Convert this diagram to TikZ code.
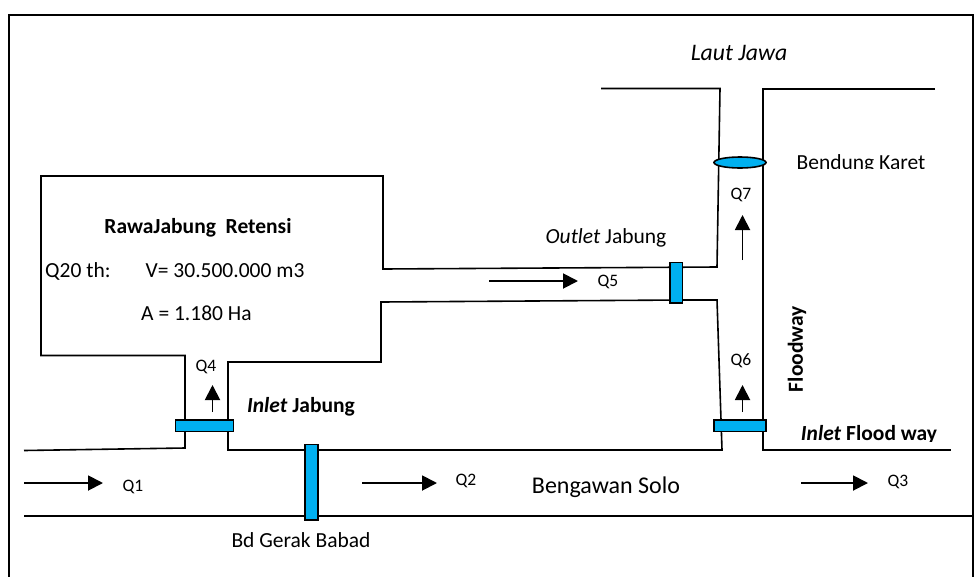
\documentclass[tikz,border=0pt]{standalone}
\usepackage{fontspec}
\setmainfont{Carlito}
\usetikzlibrary{arrows.meta}
\definecolor{gatecol}{HTML}{00B0F0}
\tikzset{
  x=1pt,y=-1pt,
  bank/.style={draw=black,line width=1.6pt,line join=miter},
  gate/.style={draw=black,fill=gatecol,line width=1.6pt},
  flow/.style={draw=black,line width=1.9pt,-{Triangle[length=15pt,width=15pt]}},
  lab/.style={inner sep=0pt,font=\fontsize{21.5}{25}\selectfont},
  qlab/.style={inner sep=0pt,font=\fontsize{17.5}{21}\selectfont},
}
\newcommand{\cliplabel}[5]{% x1 y1 x2 y2 node
  \begin{scope}\clip (#1,#2) rectangle (#3,#4); #5 \end{scope}}
\begin{document}
\begin{tikzpicture}
\useasboundingbox (0,0) rectangle (974,576);
\fill[white] (0,0) rectangle (974,576);
% frame
\draw[bank] (9,580)--(9,15)--(973,15)--(973,580);
% channels
\draw[bank] (601,88.5)--(720,88.5)--(717,267)--(383,269)--(383,176)--(41,176)--(41,355.5)--(185,355.5)--(185,448)--(24,450.5);
\draw[bank] (228,362)--(381,362)--(381,302)--(682,300)--(717,300)--(722,450)--(228,450)--cycle;
\draw[bank] (935,89)--(763,89)--(763,450)--(951,450);
\draw[bank] (24,516)--(974,516);
% gates
\draw[gate] (175.5,420) rectangle (233.5,431.5);
\draw[gate] (305,444.5) rectangle (318,520);
\draw[gate] (670,262.5) rectangle (682.5,303);
\draw[gate] (714,420) rectangle (766,431.5);
\draw[gate] (740,162.5) ellipse [x radius=26,y radius=5.5];
% flow arrows
\coordinate (q1a) at (24,483); \coordinate (q1b) at (103,483);
\coordinate (q2a) at (362,483); \coordinate (q2b) at (437,483);
\coordinate (q3a) at (801,483); \coordinate (q3b) at (868,483);
\coordinate (q5a) at (489,281); \coordinate (q5b) at (578,281);
\coordinate (q4a) at (212.5,412); \coordinate (q4b) at (212.5,385);
\coordinate (q6a) at (742.5,412); \coordinate (q6b) at (742.5,385);
\coordinate (q7a) at (742.5,260); \coordinate (q7b) at (742.5,215);
\foreach \n in {q1,q2,q3,q4,q5,q6,q7}{\draw[flow] (\n a) -- (\n b);}
% labels
\node[lab,font=\fontsize{23.7}{28}\selectfont\itshape] (laut) at (739,53) {Laut Jawa};
\cliplabel{790}{150}{940}{168.5}{\node[lab] (karet) at (861,164) {Bendung Karet};}
\node[qlab] (lq7) at (741,195) {Q7};
\node[lab] (rawa) at (198,228) {\bfseries RawaJabung\ \ Retensi};
\node[lab,anchor=west] (q20) at (45,271) {Q20 th:};
\node[lab,anchor=west] (vol) at (145.5,271) {V= 30.500.000 m3};
\node[lab,anchor=west] (area) at (141,313.5) {A = 1.180 Ha};
\node[lab] (outlet) at (606,238) {\itshape Outlet\/ \upshape Jabung};
\node[qlab] (lq5) at (608,282) {Q5};
\node[qlab] (lq4) at (206,367) {Q4};
\cliplabel{240}{390}{365}{415}{\node[lab,font=\fontsize{21.5}{25}\selectfont\bfseries] (inj) at (301,407) {\itshape Inlet\/ \upshape Jabung};}
\node[lab,font=\fontsize{21.5}{25}\selectfont\bfseries,rotate=90] (fw) at (797,349) {Floodway};
\node[qlab] (lq6) at (741,361) {Q6};
\cliplabel{795}{420}{950}{441.5}{\node[lab,font=\fontsize{21.5}{25}\selectfont\bfseries] (inf) at (869,435) {\itshape Inlet\/ \upshape Flood way};}
\node[qlab] (lq1) at (133,487) {Q1};
\node[qlab] (lq2) at (466,481) {Q2};
\node[qlab] (lq3) at (898,482) {Q3};
\node[lab,font=\fontsize{24}{28}\selectfont] (solo) at (606,487) {Bengawan Solo};
\node[lab] (babad) at (301,540) {Bd Gerak Babad};
\end{tikzpicture}
\end{document}
